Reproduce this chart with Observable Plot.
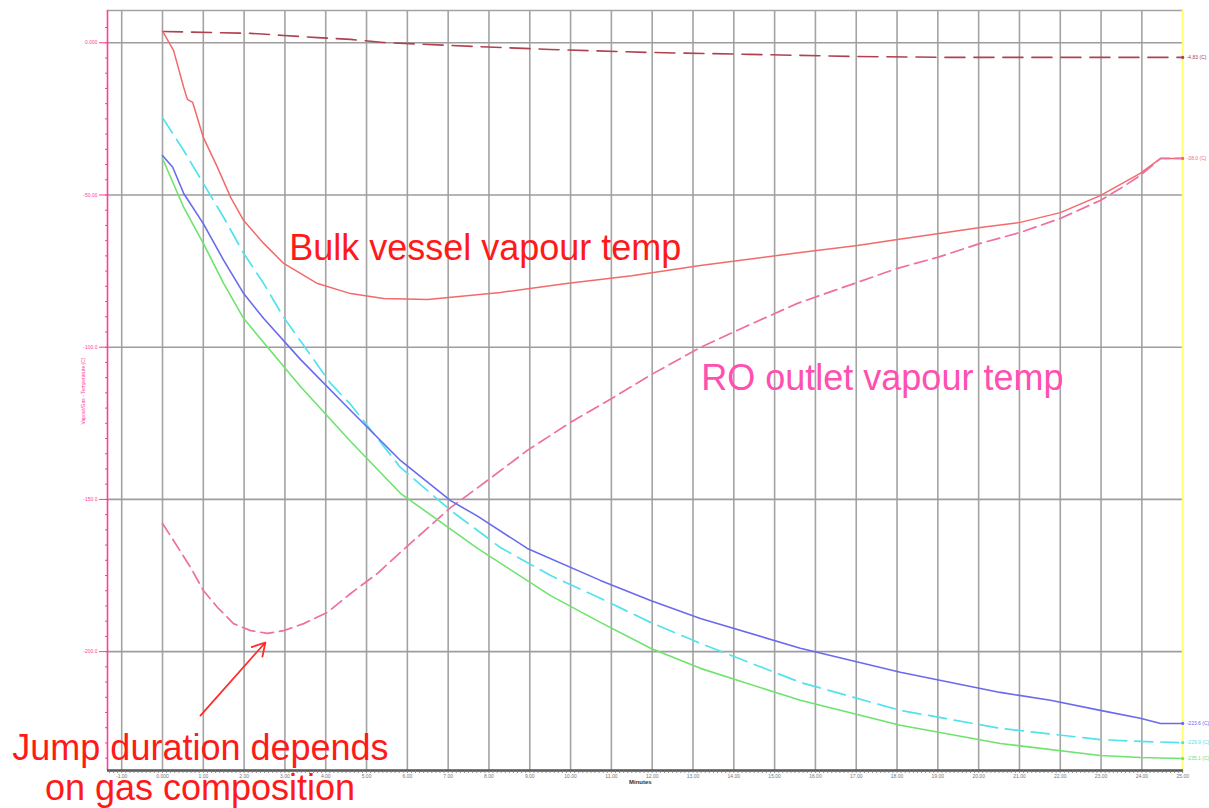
<!DOCTYPE html>
<html><head><meta charset="utf-8">
<script src="https://cdn.jsdelivr.net/npm/d3@7"></script>
<script src="https://cdn.jsdelivr.net/npm/@observablehq/plot@0.6"></script>
<style>body{margin:0;background:#fff;} svg{display:block;overflow:visible}</style>
</head><body><div id="chart"></div>
<script>
// ---- axes / ticks ----
const xTicks = d3.range(-1, 26);
const xTickLabels = xTicks.map(t => t === 0 ? "0.000" : t.toFixed(2));
const yTicks = [0, -50, -100, -150, -200];
const yTickLabels = ["0.000", "-50.00", "-100.0", "-150.0", "-200.0"];
const xTitle = "Minutes";
const yTitle = "Vapour/Gas - Temperature (C)";

// ---- series (time, temperature) ----
const vesselInlet = [[0,3.7],[2.16,3.1],[2.97,2.4],[3.8,1.7],[4.61,1.1],[5.42,0.1],[7.06,-0.9],[9.5,-2.2],[12.0,-3.2],[14.4,-3.8],[16.9,-4.5],[19.3,-4.8],[21.8,-4.8],[25.0,-4.8]];
const bulkVapour = [[0,3.8],[0.27,-2.5],[0.52,-14.7],[0.61,-18.6],[0.74,-19.6],[1.0,-31.1],[1.35,-41.0],[1.67,-50.8],[1.99,-58.4],[2.48,-65.9],[2.97,-72.5],[3.8,-79.1],[4.61,-82.4],[5.42,-84.0],[6.5,-84.3],[8.28,-82.0],[9.9,-79.1],[11.5,-76.5],[13.18,-73.2],[15.63,-68.9],[17.03,-66.6],[18.01,-64.6],[18.99,-62.7],[20.04,-60.7],[21.02,-59.0],[22.0,-55.8],[22.98,-50.2],[23.96,-42.9],[24.46,-38.0],[25.0,-38.0]];
const roOutlet = [[0,-157.9],[0.27,-163.5],[0.69,-172.4],[1.0,-179.9],[1.35,-185.5],[1.74,-190.8],[2.16,-193.1],[2.57,-194.0],[2.97,-193.1],[3.46,-190.8],[4.04,-187.1],[4.61,-180.9],[5.27,-174.3],[5.83,-167.4],[7.06,-152.7],[7.96,-143.8],[8.94,-133.9],[10.0,-124.7],[11.05,-116.5],[12.03,-108.6],[13.18,-100.1],[14.24,-93.5],[15.56,-85.6],[17.03,-78.7],[18.01,-74.1],[18.99,-70.5],[20.04,-65.9],[21.02,-62.3],[22.0,-57.7],[22.98,-51.8],[23.47,-47.9],[23.96,-43.6],[24.46,-38.0],[25.0,-38.0]];
const cyanGas = [[0,-24.6],[0.52,-35.4],[1.0,-46.2],[1.5,-57.4],[1.99,-69.2],[2.48,-79.1],[2.97,-90.2],[4.12,-111.9],[4.61,-118.8],[5.83,-139.5],[7.06,-153.6],[8.28,-165.8],[9.51,-175.0],[10.73,-182.5],[11.96,-190.4],[13.18,-197.3],[15.63,-210.1],[18.08,-219.3],[20.53,-225.2],[22.98,-228.9],[23.96,-229.5],[25.0,-229.9]];
const blueGas = [[0,-37.0],[0.25,-40.9],[0.52,-49.5],[1.0,-59.4],[1.5,-71.5],[1.99,-82.4],[2.48,-90.6],[3.38,-104.0],[4.61,-120.8],[5.83,-137.2],[7.06,-150.4],[7.72,-155.5],[8.94,-166.1],[10.73,-176.6],[11.96,-183.2],[13.18,-189.1],[15.63,-198.9],[18.08,-206.8],[20.53,-213.4],[21.76,-216.0],[22.98,-219.3],[23.96,-221.9],[24.46,-223.6],[25.0,-223.6]];
const greenGas = [[0,-38.0],[0.52,-54.1],[1.0,-65.9],[1.5,-79.1],[1.99,-90.6],[3.38,-112.9],[4.61,-131.0],[5.83,-148.0],[7.72,-166.1],[9.51,-181.6],[10.73,-190.4],[11.96,-198.9],[13.18,-205.5],[15.63,-216.0],[18.08,-224.2],[20.53,-230.2],[22.98,-234.1],[23.96,-234.8],[25.0,-235.1]];

const series = [
  {name: "vesselInlet", pts: vesselInlet, color: "#b0414f", dash: "20,9", w: 1.6, label: "-4.83 (C)"},
  {name: "bulkVapour", pts: bulkVapour, color: "#f26a6a", dash: null, w: 1.5, label: "-38.0 (C)"},
  {name: "roOutlet", pts: roOutlet, color: "#ef6fa3", dash: "13,6", w: 1.7, label: null},
  {name: "cyanGas", pts: cyanGas, color: "#52e2ee", dash: "18,8", w: 1.7, label: "-229.9 (C)"},
  {name: "blueGas", pts: blueGas, color: "#6a6aee", dash: null, w: 1.6, label: "-223.6 (C)"},
  {name: "greenGas", pts: greenGas, color: "#6ee36e", dash: null, w: 1.6, label: "-235.1 (C)"}
];

const xDomain = [-1.348, 25.02];
const yDomain = [-239.05, 10.6];
const pink = "#ff3d9a";
const font = "Liberation Sans, Arial, sans-serif";

const lineMarks = series.map(s => Plot.line(s.pts, {
  x: d => d[0], y: d => d[1], stroke: s.color, strokeWidth: s.w,
  strokeDasharray: s.dash, curve: "linear"
}));
const endRows = series.filter(s => s.label).map(s => ({t: s.pts[s.pts.length-1][0], v: s.pts[s.pts.length-1][1], label: s.label, color: s.color}));

const chart = Plot.plot({
  width: 1209, height: 808,
  marginLeft: 107, marginRight: 26, marginTop: 10, marginBottom: 38,
  style: {fontFamily: font, background: "#fff", overflow: "visible"},
  x: {domain: xDomain},
  y: {domain: yDomain},
  marks: [
    Plot.ruleX(xTicks.filter(t => t < 25), {stroke: "#a3a3a3", strokeWidth: 1.6}),
    Plot.ruleY(yTicks, {stroke: "#9d9d9d", strokeWidth: 1.6}),
    Plot.ruleY([yDomain[1]], {stroke: "#a3a3a3", strokeWidth: 1.6}),
    Plot.ruleX([25], {stroke: "#ffff70", strokeWidth: 2}),
    ...lineMarks,
    Plot.dot(endRows, {x: "t", y: "v", r: 1.6, fill: d => d.color, stroke: null}),
    Plot.text(endRows, {x: "t", y: "v", text: "label", fill: d => d.color, dx: 4, textAnchor: "start", fontSize: 5}),
    // y axis (pink)
    Plot.ruleX([xDomain[0]], {stroke: pink, strokeWidth: 1.6}),
    Plot.axisY({ticks: d3.range(-235, 10, 5), tickSize: 2, text: null, stroke: pink, strokeWidth: 1}),
    Plot.axisY({ticks: yTicks, tickSize: 8, tickFormat: (d, i) => yTickLabels[i], fill: pink, stroke: pink, fontSize: 5, tickPadding: 2, label: null}),
    Plot.text([yTitle], {x: -1.94, y: -114.4, text: d => d, rotate: -90, fill: pink, fontSize: 5, frameAnchor: "middle"}),
    // x axis
    Plot.ruleY([yDomain[0]], {stroke: "#555", strokeWidth: 2.5}),
    Plot.axisX({ticks: d3.range(-1.3, 25.05, 0.1), tickSize: 3, text: null, stroke: "#777", strokeWidth: 0.8}),
    Plot.axisX({ticks: xTicks, tickSize: 0, tickPadding: 4, tickFormat: (d, i) => xTickLabels[i], fill: "#777", fontSize: 5, label: null}),
    Plot.text([xTitle], {x: 11.71, y: -243.0, text: d => d, fill: "#333", fontSize: 6, fontWeight: "bold"}),
    // annotations
    Plot.text(["Bulk vessel vapour temp"], {x: 7.91, y: -67.6, text: d => d, fill: "#ff1a1a", fontSize: 36}),
    Plot.text(["RO outlet vapour temp"], {x: 17.64, y: -110.3, text: d => d, fill: "#ff4fb0", fontSize: 36}),
    Plot.text(["Jump duration depends"], {x: 0.93, y: -231.8, text: d => d, fill: "#ff1a1a", fontSize: 36}),
    Plot.text(["on gas composition"], {x: 0.92, y: -245.0, text: d => d, fill: "#ff1a1a", fontSize: 36}),
    Plot.arrow([{x1: 0.93, y1: -221.0, x2: 2.52, y2: -197.0}], {x1: "x1", y1: "y1", x2: "x2", y2: "y2", stroke: "#ff2a2a", strokeWidth: 1.8, headLength: 12, insetEnd: 0})
  ]
});
document.getElementById("chart").appendChild(chart);
</script>
</body></html>
